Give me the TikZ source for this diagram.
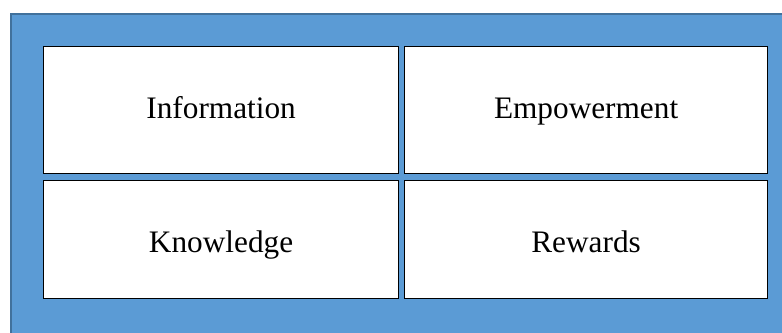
\documentclass[tikz,border=0pt]{standalone}
\usepackage{fontspec}
\setmainfont{Liberation Serif}
\definecolor{panelblue}{HTML}{5B9BD5}
\definecolor{paneledge}{HTML}{41719C}
\begin{document}
\begin{tikzpicture}[x=1bp,y=-1bp,
  cell/.style={draw=black,line width=1.2bp,fill=white,minimum width=355bp,
    anchor=north west,inner sep=0pt,
    font=\fontsize{31.4}{36}\selectfont},
  toprow/.style={cell,minimum height=127bp,text height=20.8bp,text depth=4bp},
  lowrow/.style={cell,minimum height=118bp,text height=24.8bp,text depth=0bp},
]
\useasboundingbox (0,0) rectangle (782,332);
\fill[white] (0,0) rectangle (782,332);
% blue panel
\fill[panelblue] (10,13) rectangle (784,334);
\draw[paneledge,line width=2bp] (11,334) -- (11,14) -- (784,14);
% four cells
\node[toprow] (info) at (43,46) {Information};
\node[toprow,minimum width=363bp] (emp) at (404,46) {Empowerment};
\node[lowrow] (know) at (43,180) {Knowledge};
\node[lowrow,minimum width=363bp] (rew) at (404,180) {Rewards};
\end{tikzpicture}
\end{document}
